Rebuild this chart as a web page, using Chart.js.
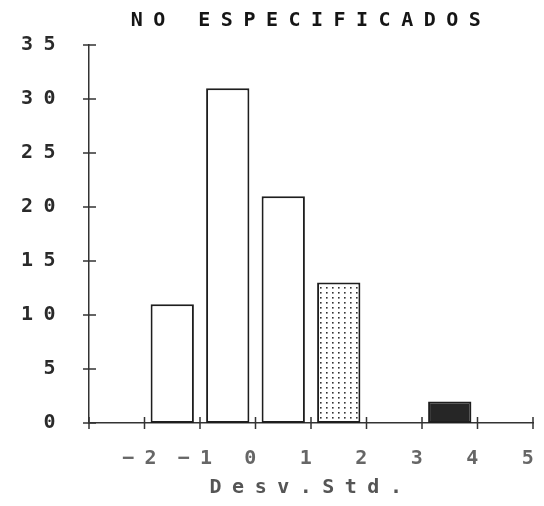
<!DOCTYPE html>
<html>
<head>
<meta charset="utf-8">
<script src="https://cdn.jsdelivr.net/npm/chart.js@4"></script>
<style>
  body { margin: 0; background: #fff; }
  #box { width: 544px; height: 506px; }
</style>
</head>
<body>
<div id="box"><canvas id="histograma"></canvas></div>
<script>
// Histograma - desvios padrao
var centrosClasse = [-1.5, -0.5, 0.5, 1.5, 3.5];
var frequencias = [11, 31, 21, 13, 2];
var ticksX = [-3, -2, -1, 0, 1, 2, 3, 4, 5];
var ticksY = [0, 5, 10, 15, 20, 25, 30, 35];

// Padrao pontilhado para a quarta barra
var pc = document.createElement("canvas");
pc.width = 6;
pc.height = 5;
var pctx = pc.getContext("2d");
pctx.fillStyle = "#fff";
pctx.fillRect(0, 0, 6, 5);
pctx.fillStyle = "#333";
pctx.fillRect(2, 2, 1.6, 1.6);
var pontilhado = pctx.createPattern(pc, "repeat");

var coresBarras = ["#fff", "#fff", "#fff", pontilhado, "#262626"];

var pontos = [];
for (var i = 0; i < centrosClasse.length; i++) {
  pontos.push({ x: centrosClasse[i], y: frequencias[i] });
}

var fonte = "'DejaVu Sans Mono', monospace";

// Letras espacadas como na impressora matricial + marcas cruzando os eixos
var estiloPlugin = {
  id: "estilo",
  beforeDraw: function (chart) {
    chart.ctx.letterSpacing = "10.5px";
  },
  afterDraw: function (chart) {
    var ctx = chart.ctx;
    var sx = chart.scales.x;
    var sy = chart.scales.y;
    ctx.save();
    ctx.strokeStyle = "#333";
    ctx.lineWidth = 1.5;
    ctx.beginPath();
    for (var i = 0; i < ticksY.length; i++) {
      var py = sy.getPixelForValue(ticksY[i]);
      ctx.moveTo(sx.left - 6, py);
      ctx.lineTo(sx.left + 7, py);
    }
    for (var j = 0; j < ticksX.length; j++) {
      var px = sx.getPixelForValue(ticksX[j]);
      ctx.moveTo(px, sy.bottom - 6);
      ctx.lineTo(px, sy.bottom + 6);
    }
    ctx.stroke();
    ctx.restore();
  },
};

var ctx1 = document.getElementById("histograma").getContext("2d");
var histograma = new Chart(ctx1, {
  type: "bar",
  data: {
    datasets: [
      {
        data: pontos,
        backgroundColor: coresBarras,
        borderColor: "#1e1e1e",
        borderWidth: 2,
        borderSkipped: false,
        categoryPercentage: 1,
        barPercentage: 0.78,
      },
    ],
  },
  options: {
    responsive: true,
    maintainAspectRatio: false,
    animation: false,
    layout: { padding: 0 },
    plugins: {
      legend: { display: false },
      tooltip: { enabled: false },
      title: {
        display: true,
        text: "NO ESPECIFICADOS",
        fullSize: false,
        color: "#151515",
        font: { family: fonte, size: 20, weight: "bold" },
        padding: { top: 9, bottom: 12 },
      },
    },
    scales: {
      x: {
        type: "linear",
        offset: false,
        min: -3,
        max: 5,
        afterBuildTicks: function (scale) {
          scale.ticks = ticksX.map(function (v) { return { value: v }; });
        },
        afterFit: function (scale) {
          scale.height = 83;
          scale.paddingLeft = 0;
          scale.paddingRight = 11;
        },
        ticks: {
          autoSkip: false,
          maxRotation: 0,
          padding: 24,
          color: "#666",
          font: { family: fonte, size: 20, weight: "bold" },
          callback: function (value) {
            if (value === -3) return "";
            return value < 0 ? "\u2212" + Math.abs(value) : "" + value;
          },
        },
        grid: { display: false, drawTicks: false },
        border: { display: true, color: "#333", width: 1.5 },
        title: {
          display: true,
          text: "Desv.Std.",
          color: "#555",
          font: { family: fonte, size: 20, weight: "bold" },
          padding: { top: 0, bottom: 6 },
        },
      },
      y: {
        min: 0,
        max: 35,
        afterBuildTicks: function (scale) {
          scale.ticks = ticksY.map(function (v) { return { value: v }; });
        },
        afterFit: function (scale) {
          scale.width = 89;
        },
        ticks: {
          padding: 23,
          color: "#2a2a2a",
          font: { family: fonte, size: 20, weight: "bold" },
        },
        grid: { display: false, drawTicks: false },
        border: { display: true, color: "#333", width: 1.5 },
      },
    },
  },
  plugins: [estiloPlugin],
});
</script>
</body>
</html>
